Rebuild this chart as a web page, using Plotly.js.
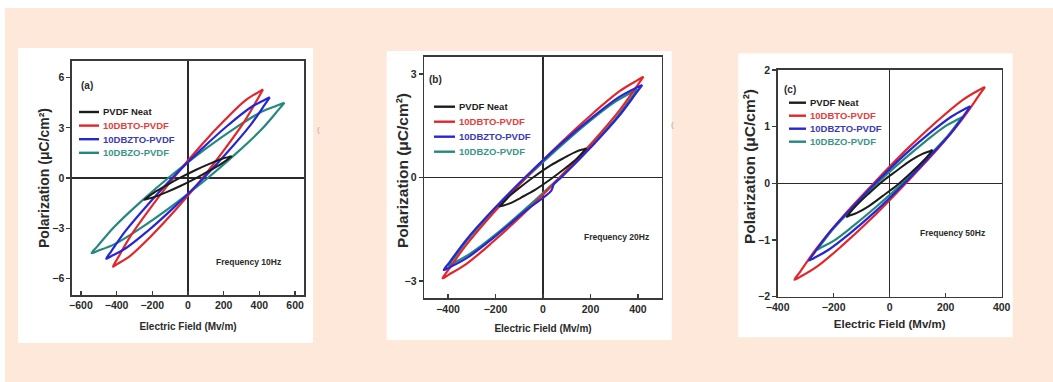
<!DOCTYPE html>
<html>
<head>
<meta charset="utf-8">
<script src="https://cdn.plot.ly/plotly-3.0.1.min.js"></script>
<style>
html,body{margin:0;padding:0;background:#ffffff;}
#chart{width:1053px;height:382px;}
</style>
</head>
<body>
<div id="chart"></div>
<script>
// ---------- labels ----------
const seriesNames = ['PVDF Neat', '10DBTO-PVDF', '10DBZTO-PVDF', '10DBZO-PVDF'];
const lineColors  = ['#1c1c1c', '#e3262c', '#2626d4', '#24887e'];
const textColors  = ['#1e1e1e', '#e2403c', '#3a3ab4', '#3a9688'];
const panelLabels = ['(a)', '(b)', '(c)'];
const freqLabels  = ['Frequency 10Hz', 'Frequency 20Hz', 'Frequency 50Hz'];
const xTickVals = [[-600, -400, -200, 0, 200, 400, 600], [-400, -200, 0, 200, 400], [-400, -200, 0, 200, 400]];
const yTickVals = [[-6, -3, 0, 3, 6], [-3, 0, 3], [-2, -1, 0, 1, 2]];
const xTitle = 'Electric Field (Mv/m)';
const yTitle = 'Polarization (μC/cm²)';

// ---------- (a) 10 Hz : E (Mv/m), P (uC/cm2); upper branch to +tip, then lower branch back ----------
const a_neat_E  = [-245, -230, -188, -123, -43, 43, 123, 188, 230, 245, 245, 230, 188, 123, 43, -43, -123, -188, -230, -245];
const a_neat_P  = [-1.3, -1.18, -0.86, -0.45, 0.02, 0.48, 0.86, 1.14, 1.26, 1.3, 1.3, 1.18, 0.86, 0.45, -0.02, -0.48, -0.86, -1.14, -1.26, -1.3];
const a_dbto_E  = [-420, -395, -322, -210, -73, 73, 210, 322, 395, 420, 420, 395, 322, 210, 73, -73, -210, -322, -395, -420];
const a_dbto_P  = [-5.3, -4.82, -3.48, -1.79, 0.11, 1.95, 3.51, 4.64, 5.14, 5.3, 5.3, 4.82, 3.48, 1.79, -0.11, -1.95, -3.51, -4.64, -5.14, -5.3];
const a_dbzto_E = [-458, -431, -351, -229, -80, 80, 229, 351, 431, 458, 458, 431, 351, 229, 80, -80, -229, -351, -431, -458];
const a_dbzto_P = [-4.83, -4.40, -3.18, -1.64, 0.09, 1.77, 3.20, 4.22, 4.68, 4.83, 4.83, 4.40, 3.18, 1.64, -0.09, -1.77, -3.20, -4.22, -4.68, -4.83];
const a_dbzo_E  = [-540, -508, -414, -270, -94, 94, 270, 414, 508, 540, 540, 508, 414, 270, 94, -94, -270, -414, -508, -540];
const a_dbzo_P  = [-4.5, -4.09, -2.93, -1.47, 0.15, 1.71, 3.03, 3.97, 4.37, 4.5, 4.5, 4.09, 2.93, 1.47, -0.15, -1.71, -3.03, -3.97, -4.37, -4.5];

// ---------- (b) 20 Hz ----------
const b_neat_E  = [-183, -172, -140, -92, -32, 32, 92, 140, 172, 183, 183, 172, 140, 92, 32, -32, -92, -140, -172, -183];
const b_neat_P  = [-0.84, -0.76, -0.53, -0.26, 0.05, 0.35, 0.58, 0.75, 0.82, 0.84, 0.84, 0.76, 0.53, 0.26, -0.05, -0.35, -0.58, -0.75, -0.82, -0.84];
const b_dbto_E  = [-423, -398, -324, -212, -74, 74, 212, 324, 398, 423, 423, 398, 324, 212, 74, -74, -212, -324, -398, -423];
const b_dbto_P  = [-2.92, -2.67, -1.96, -1.05, -0.02, 1.0, 1.87, 2.51, 2.82, 2.92, 2.92, 2.67, 1.96, 1.05, 0.02, -1.0, -1.87, -2.51, -2.82, -2.92];
const b_dbzto_E = [-418, -393, -320, -209, -73, 73, 209, 320, 393, 418, 418, 393, 320, 209, 73, 45, 35, -73, -209, -320, -393, -418];
const b_dbzto_P = [-2.68, -2.45, -1.78, -0.93, 0.02, 0.96, 1.75, 2.33, 2.60, 2.68, 2.68, 2.45, 1.78, 0.93, -0.02, -0.20, -0.38, -0.96, -1.75, -2.33, -2.60, -2.68];
const b_dbzo_E  = [-398, -374, -305, -199, -69, 69, 199, 305, 374, 398, 398, 374, 305, 199, 69, -69, -199, -305, -374, -398];
const b_dbzo_P  = [-2.55, -2.33, -1.70, -0.91, 0.0, 0.88, 1.65, 2.20, 2.47, 2.55, 2.55, 2.33, 1.70, 0.91, 0.0, -0.88, -1.65, -2.20, -2.47, -2.55];

// ---------- (c) 50 Hz ----------
const c_neat_E  = [-153, -144, -117, -77, -27, 27, 77, 117, 144, 153, 153, 144, 117, 77, 27, -27, -77, -117, -144, -153];
const c_neat_P  = [-0.59, -0.53, -0.38, -0.19, 0.03, 0.23, 0.41, 0.52, 0.57, 0.59, 0.59, 0.53, 0.38, 0.19, -0.03, -0.23, -0.41, -0.52, -0.57, -0.59];
const c_dbto_E  = [-340, -320, -260, -170, -59, 59, 170, 260, 320, 340, 340, 320, 260, 170, 59, -59, -170, -260, -320, -340];
const c_dbto_P  = [-1.7, -1.56, -1.14, -0.60, -0.01, 0.59, 1.10, 1.47, 1.65, 1.7, 1.7, 1.56, 1.14, 0.60, 0.01, -0.59, -1.10, -1.47, -1.65, -1.7];
const c_dbzto_E = [-288, -271, -221, -144, -50, 50, 144, 221, 271, 288, 288, 271, 221, 144, 50, -50, -144, -221, -271, -288];
const c_dbzto_P = [-1.36, -1.24, -0.90, -0.48, 0.01, 0.49, 0.89, 1.18, 1.32, 1.36, 1.36, 1.24, 0.90, 0.48, -0.01, -0.49, -0.89, -1.18, -1.32, -1.36];
const c_dbzo_E  = [-260, -244, -199, -130, -45, 45, 130, 199, 244, 260, 260, 244, 199, 130, 45, -45, -130, -199, -244, -260];
const c_dbzo_P  = [-1.17, -1.07, -0.79, -0.43, 0.0, 0.40, 0.75, 1.01, 1.13, 1.17, 1.17, 1.07, 0.79, 0.43, 0.0, -0.40, -0.75, -1.01, -1.13, -1.17];

// ---------- assembly ----------
const panelData = [
  [[a_neat_E, a_neat_P], [a_dbto_E, a_dbto_P], [a_dbzto_E, a_dbzto_P], [a_dbzo_E, a_dbzo_P]],
  [[b_neat_E, b_neat_P], [b_dbto_E, b_dbto_P], [b_dbzto_E, b_dbzto_P], [b_dbzo_E, b_dbzo_P]],
  [[c_neat_E, c_neat_P], [c_dbto_E, c_dbto_P], [c_dbzto_E, c_dbzto_P], [c_dbzo_E, c_dbzo_P]]
];

const W = 1053, H = 382;
const px = v => v / W;
const py = v => 1 - v / H;

// layout geometry in pixels
const geo = [
  {plot: [72, 304, 61, 295], panel: [18, 313, 48, 343], xr: [-650, 650], yr: [-7, 7],
   tick: 10.5, xts: 10, xso: 13, yts: 14, yt: [44, 178],
   lab: [79, 86], freq: [248, 262], leg: [79, 99, 101, 112, 13.6]},
  {plot: [424.3, 661.7, 56.7, 298.3], panel: [386.7, 671.7, 51, 340], xr: [-500, 500], yr: [-3.5, 3.5],
   tick: 10.5, xts: 10, xso: 11, yts: 15.5, yt: [402, 171],
   lab: [427, 79], freq: [616, 237], leg: [434, 455, 457, 106.7, 15]},
  {plot: [777.7, 1001.7, 70, 296.7], panel: [738.3, 1012.7, 53.3, 337.3], xr: [-400, 400], yr: [-2, 2],
   tick: 10.5, xts: 11.5, xso: 8, yts: 15.5, yt: [750, 167],
   lab: [782, 89], freq: [952, 233], leg: [789, 806, 808, 102.7, 13]}
];

const drawOrder = [3, 1, 2, 0];
const traces = [];
const shapes = [];
const annotations = [];
const layout = {
  width: W, height: H,
  margin: {l: 0, r: 0, t: 0, b: 0},
  paper_bgcolor: '#ffffff',
  plot_bgcolor: 'rgba(0,0,0,0)',
  showlegend: false,
  font: {family: 'Arial, Liberation Sans, sans-serif', color: '#2a2a2a'}
};

// peach backdrop
shapes.push({type: 'rect', xref: 'paper', yref: 'paper', x0: px(5), x1: 1, y0: 0, y1: py(8),
  fillcolor: '#fde8da', line: {width: 0}, layer: 'below'});

geo.forEach((g, pi) => {
  const sfx = pi === 0 ? '' : String(pi + 1);
  const xa = 'x' + sfx, ya = 'y' + sfx;

  // white card
  shapes.push({type: 'rect', xref: 'paper', yref: 'paper',
    x0: px(g.panel[0]), x1: px(g.panel[1]), y0: py(g.panel[3]), y1: py(g.panel[2]),
    fillcolor: '#ffffff', line: {width: 0}, layer: 'below'});

  drawOrder.forEach(si => {
    traces.push({
      type: 'scatter', mode: 'lines',
      x: panelData[pi][si][0], y: panelData[pi][si][1],
      name: seriesNames[si], xaxis: xa, yaxis: ya,
      line: {color: lineColors[si], width: si === 0 ? 2 : 2.2, shape: 'spline', smoothing: 1, simplify: false},
      hoverinfo: 'skip', showlegend: false
    });
  });

  const common = {
    showgrid: false, showline: true, mirror: true, linecolor: '#3a3a3a', linewidth: 1.6,
    zeroline: true, zerolinecolor: '#2a2a2a', zerolinewidth: 1.4,
    ticklen: 4, tickwidth: 1.2, tickcolor: '#3a3a3a', fixedrange: true, automargin: false,
    tickfont: {family: 'Arial, Liberation Sans, sans-serif', size: g.tick, color: '#2a2a2a', weight: 'bold'}
  };
  layout['xaxis' + sfx] = Object.assign({}, common, {
    domain: [px(g.plot[0]), px(g.plot[1])], range: g.xr, anchor: ya,
    tickmode: 'array', tickvals: xTickVals[pi], ticks: 'inside',
    title: {text: xTitle, standoff: g.xso, font: {size: g.xts, weight: 'bold', color: '#2a2a2a'}}
  });
  layout['yaxis' + sfx] = Object.assign({}, common, {
    domain: [py(g.plot[3]), py(g.plot[2])], range: g.yr, anchor: xa,
    tickmode: 'array', tickvals: yTickVals[pi], ticks: 'outside'
  });

  // y axis title (rotated)
  annotations.push({xref: 'paper', yref: 'paper', x: px(g.yt[0]), y: py(g.yt[1]), xanchor: 'center', yanchor: 'middle',
    text: yTitle, textangle: -90, showarrow: false, font: {size: g.yts, weight: 'bold', color: '#2a2a2a'}});

  // panel label and frequency note
  annotations.push({xref: 'paper', yref: 'paper', x: px(g.lab[0]), y: py(g.lab[1]), xanchor: 'left', yanchor: 'middle',
    text: panelLabels[pi], showarrow: false, font: {size: 10, weight: 'bold', color: '#2a2a2a'}});
  annotations.push({xref: 'paper', yref: 'paper', x: px(g.freq[0]), y: py(g.freq[1]), xanchor: 'center', yanchor: 'middle',
    text: freqLabels[pi], showarrow: false, font: {size: 8.5, weight: 'bold', color: '#2a2a2a'}});

  // in-plot legend
  [0, 1, 2, 3].forEach(si => {
    const yy = g.leg[3] + si * g.leg[4];
    shapes.push({type: 'line', xref: 'paper', yref: 'paper',
      x0: px(g.leg[0]), x1: px(g.leg[1]), y0: py(yy), y1: py(yy),
      line: {color: lineColors[si], width: 2.4}});
    annotations.push({xref: 'paper', yref: 'paper', x: px(g.leg[2]), y: py(yy), xanchor: 'left', yanchor: 'middle',
      text: seriesNames[si], showarrow: false,
      font: {size: 9.5, weight: 'bold', color: textColors[si]}});
  });
});

// small stray marks at the right edge of cards (a) and (b)
annotations.push({xref: 'paper', yref: 'paper', x: px(315), y: py(123), text: '(', showarrow: false,
  font: {size: 8, color: '#aaaaaa'}});
annotations.push({xref: 'paper', yref: 'paper', x: px(672), y: py(118), text: '(', showarrow: false,
  font: {size: 8, color: '#aaaaaa'}});

layout.shapes = shapes;
layout.annotations = annotations;

Plotly.newPlot('chart', traces, layout, {staticPlot: true, displayModeBar: false});
</script>
</body>
</html>
